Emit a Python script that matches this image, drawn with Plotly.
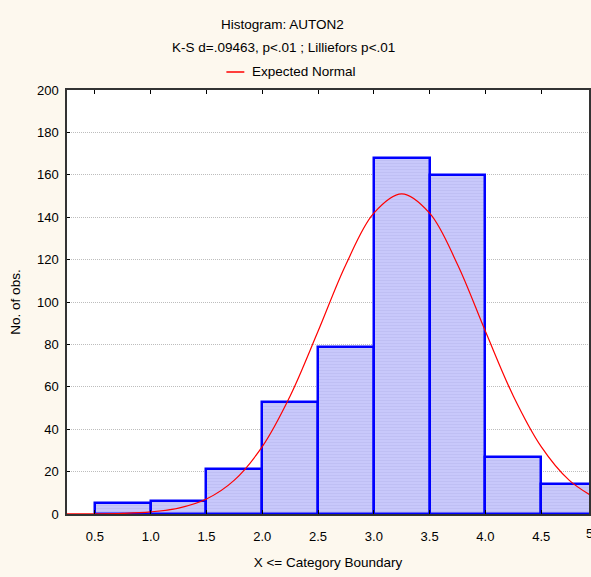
import plotly.graph_objects as go

# Histogram bins (upper category boundaries) and counts
bin_left = [0.5, 1.0, 1.5, 2.0, 2.5, 3.0, 3.5, 4.0, 4.5]
bin_right = [1.0, 1.5, 2.0, 2.5, 3.0, 3.5, 4.0, 4.5, 5.0]
counts = [5, 6, 21, 53, 79, 168, 160, 27, 14]

# Expected normal curve
curve_x = [0.25, 0.5, 0.75, 1.0, 1.25, 1.5, 1.75, 2.0, 2.25, 2.5, 2.75, 3.0,
           3.25, 3.5, 3.75, 4.0, 4.25, 4.5, 4.75, 5.0]
curve_y = [0.02, 0.08, 0.3, 1.0, 2.8, 7.1, 16.0, 31.8, 55.7, 86.2, 117.7, 141.9,
           151.0, 141.9, 117.7, 86.2, 55.7, 31.8, 16.0, 7.1]

x_ticks = [0.5, 1.0, 1.5, 2.0, 2.5, 3.0, 3.5, 4.0, 4.5]
x_ticktext = ["0.5", "1.0", "1.5", "2.0", "2.5", "3.0", "3.5", "4.0", "4.5"]
y_ticks = [0, 20, 40, 60, 80, 100, 120, 140, 160, 180, 200]

title1 = "Histogram: AUTON2"
title2 = "K-S d=.09463, p<.01 ; Lilliefors p<.01"
legend_text = "Expected Normal"

FONT = "Liberation Sans, Arial, sans-serif"
W, H = 591, 577
ML, MR, MT, MB = 67, 0, 90, 63

centers = [(a + b) / 2 for a, b in zip(bin_left, bin_right)]
widths = [b - a for a, b in zip(bin_left, bin_right)]

fig = go.Figure()
fig.add_trace(go.Bar(
    x=centers, y=counts, width=widths,
    marker=dict(color="#C6C6FA",
                line=dict(color="#0000FF", width=2.5),
                pattern=dict(shape="-", fgcolor="#B6B6EE", bgcolor="#C8C8FB",
                             size=3, solidity=0.35)),
    showlegend=False, name="counts"))
fig.add_trace(go.Scatter(
    x=curve_x, y=curve_y, mode="lines",
    line=dict(color="#FF0000", width=1.2, shape="spline", smoothing=1.0),
    name=legend_text, showlegend=False))

pw = W - ML - MR
ph = H - MT - MB

def px_x(p):
    return (p - ML) / pw

def px_y(p):
    return (H - MB - p) / ph

annotations = [
    dict(text=title1, xref="paper", yref="paper", x=px_x(283), y=px_y(25),
         showarrow=False, font=dict(size=13.5, color="#000000", family=FONT),
         xanchor="center", yanchor="middle"),
    dict(text=title2, xref="paper", yref="paper", x=px_x(284), y=px_y(48),
         showarrow=False, font=dict(size=13.5, color="#000000", family=FONT),
         xanchor="center", yanchor="middle"),
    dict(text=legend_text, xref="paper", yref="paper", x=px_x(251), y=px_y(72),
         showarrow=False, font=dict(size=13.5, color="#000000", family=FONT),
         xanchor="left", yanchor="middle"),
    dict(text="5.0", xref="paper", yref="paper", x=px_x(597), y=px_y(533),
         showarrow=False, font=dict(size=13, color="#000000", family=FONT),
         xanchor="center", yanchor="middle"),
]

shapes = [
    dict(type="line", xref="paper", yref="paper", x0=px_x(227), x1=px_x(245),
         y0=px_y(72), y1=px_y(72), line=dict(color="#FF0000", width=1.5)),
]

fig.update_layout(
    width=W, height=H,
    margin=dict(l=ML, r=MR, t=MT, b=MB, pad=0),
    paper_bgcolor="#FDF8EE", plot_bgcolor="#FFFFFF",
    font=dict(family=FONT, size=13, color="#000000"),
    bargap=0, showlegend=False,
    annotations=annotations, shapes=shapes,
    xaxis=dict(range=[0.25, 0.25 + pw / 112.0], tickvals=x_ticks, ticktext=x_ticktext,
               showgrid=False, zeroline=False, showline=True, linecolor="#333333",
               linewidth=1.5, mirror="ticks", ticks="inside", ticklen=4,
               tickcolor="#000000", ticklabelstandoff=10,
               title=dict(text="X <= Category Boundary", standoff=14,
                          font=dict(size=13.5))),
    yaxis=dict(range=[0, 200], tickvals=y_ticks, showgrid=True,
               gridcolor="#BDBDBD", griddash="1px,1px", gridwidth=1,
               zeroline=False, showline=True, linecolor="#333333", linewidth=1.5,
               mirror=True, ticks="inside", ticklen=3, tickcolor="#000000",
               ticklabelstandoff=4,
               title=dict(text="No. of obs.", standoff=13, font=dict(size=13.5))),
)

fig.write_html("out.html")
